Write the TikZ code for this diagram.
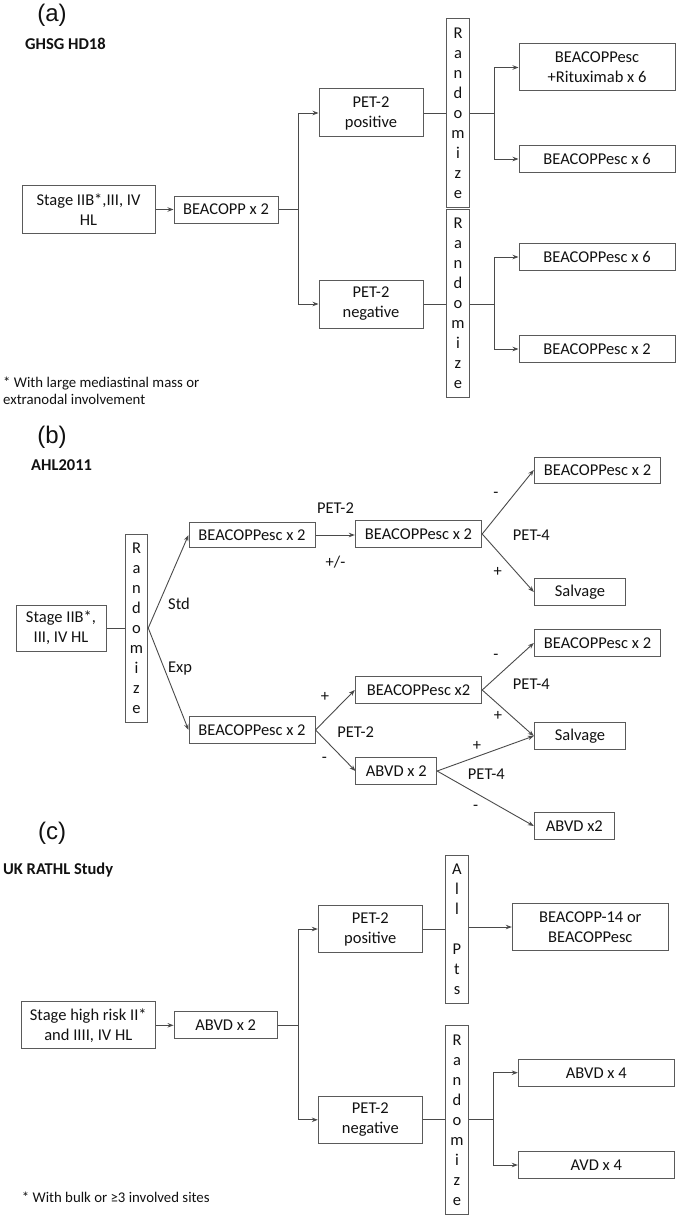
\documentclass[tikz,border=0pt]{standalone}
\usepackage{fontspec}
\setmainfont{Carlito}
\newfontfamily\labfont{Liberation Sans}
\usetikzlibrary{arrows.meta}
\definecolor{lnc}{HTML}{4A4A4A}
\definecolor{bxc}{HTML}{5A5A5A}
\definecolor{tx}{HTML}{111111}
\begin{document}
\begin{tikzpicture}[x=1pt,y=-1pt,
 bx/.style={draw=bxc, line width=1pt, inner sep=0pt, align=center, text=tx, font=\fontsize{16.5}{20}\selectfont},
 vbox/.style={bx, text width=20pt, minimum width=22.5pt},
 lab/.style={text=tx, inner sep=0pt, font=\labfont\fontsize{24}{28}\selectfont},
 ttl/.style={text=tx, inner sep=0pt, anchor=west, font=\bfseries\fontsize{16.5}{20}\selectfont},
 lbl/.style={text=tx, inner sep=0pt, font=\fontsize{16.5}{20}\selectfont},
 note/.style={text=tx, inner sep=0pt, anchor=west, align=left, font=\fontsize{14.8}{17.5}\selectfont},
 conn/.style={draw=lnc, line width=0.9pt},
 arr/.style={conn, -{Stealth[length=6pt,width=4.5pt]}}
]
\useasboundingbox (0,0) rectangle (678,1217);

% ---------------- (a)
\node[lab] (la) at (52,15) {(a)};
\node[ttl] (ta) at (25,44) {GHSG HD18};
\node[bx, minimum width=133pt, minimum height=47pt] (s1) at (88.5,209.5) {Stage IIB*,III, IV\\HL};
\node[bx, minimum width=104pt, minimum height=27pt] (b1) at (226,209.5) {BEACOPP x 2};
\node[bx, minimum width=104pt, minimum height=48pt] (p1) at (371,113) {PET-2\\positive};
\node[bx, minimum width=104pt, minimum height=48pt] (n1) at (371,304) {PET-2\\negative};
\node[vbox, minimum height=188pt] (r1) at (458,113) {R\\a\\n\\d\\o\\m\\i\\z\\e};
\node[vbox, minimum height=188pt] (r2) at (458,303.5) {R\\a\\n\\d\\o\\m\\i\\z\\e};
\node[bx, minimum width=156pt, minimum height=47pt] (e1) at (597,67.5) {BEACOPPesc\\+Rituximab x 6};
\node[bx, minimum width=156pt, minimum height=27pt] (e2) at (597,159) {BEACOPPesc x 6};
\node[bx, minimum width=156pt, minimum height=27pt] (e3) at (597,257) {BEACOPPesc x 6};
\node[bx, minimum width=156pt, minimum height=27pt] (e4) at (597,349) {BEACOPPesc x 2};
\node[note] (fa) at (3,391) {* With large mediastinal mass or\\extranodal involvement};

\coordinate (ja) at (298,209.5);
\coordinate (jb) at (494.3,113);
\coordinate (jc) at (494.3,304);
\draw[arr] (s1) -- (b1);
\draw[conn] (b1) -- (ja);
\draw[arr] (ja) |- (p1.west);
\draw[arr] (ja) |- (n1.west);
\draw[conn] (p1) -- (r1);
\draw[conn] (n1) -- (n1 -| r2.west);
\draw[conn] (r1.east) -- (jb);
\draw[conn] (r2.east |- jc) -- (jc);
\draw[arr] (jb) |- (e1.west);
\draw[arr] (jb) |- (e2.west);
\draw[arr] (jc) |- (e3.west);
\draw[arr] (jc) |- (e4.west);

% ---------------- (b)
\node[lab] (lb) at (52,437) {(b)};
\node[ttl] (tb) at (31,465) {AHL2011};
\node[bx, minimum width=90pt, minimum height=46pt] (s2) at (61,628) {Stage IIB*,\\III, IV HL};
\node[vbox, minimum height=188pt] (r3) at (136.5,628) {R\\a\\n\\d\\o\\m\\i\\z\\e};
\node[bx, minimum width=126pt, minimum height=25pt] (c1) at (252,535) {BEACOPPesc x 2};
\node[bx, minimum width=126pt, minimum height=27pt] (c2) at (252,730) {BEACOPPesc x 2};
\node[bx, minimum width=126.4pt, minimum height=26.7pt] (d1) at (418.5,534) {BEACOPPesc x 2};
\node[bx, minimum width=126.4pt, minimum height=26pt] (f1) at (597.5,470) {BEACOPPesc x 2};
\node[bx, minimum width=91.4pt, minimum height=27pt] (f2) at (580,592) {Salvage};
\node[bx, minimum width=126.4pt, minimum height=26.7pt] (d2) at (418.5,690) {BEACOPPesc x2};
\node[bx, minimum width=80.7pt, minimum height=26.7pt] (d3) at (396.3,771) {ABVD x 2};
\node[bx, minimum width=126.4pt, minimum height=27pt] (f3) at (597.5,643) {BEACOPPesc x 2};
\node[bx, minimum width=91.4pt, minimum height=27pt] (f4) at (580,736) {Salvage};
\node[bx, minimum width=80pt, minimum height=26.7pt] (f5) at (574.3,826) {ABVD x2};

\node[lbl] (l1) at (179,604) {Std};
\node[lbl] (l2) at (180,669) {Exp};
\node[lbl] (l3) at (335.5,507.7) {PET-2};
\node[lbl] (l4) at (335.5,562) {+/-};
\node[lbl] (l5) at (496,495) {-};
\node[lbl] (l6) at (531.3,535) {PET-4};
\node[lbl] (l7) at (497.7,571.7) {+};
\node[lbl] (l8) at (325,697.3) {+};
\node[lbl] (l9) at (355.7,731.7) {PET-2};
\node[lbl] (l10) at (324.3,760) {-};
\node[lbl] (l11) at (496,657.3) {-};
\node[lbl] (l12) at (531.3,684) {PET-4};
\node[lbl] (l13) at (498,716) {+};
\node[lbl] (l14) at (477,746) {+};
\node[lbl] (l15) at (486.3,774) {PET-4};
\node[lbl] (l16) at (475.7,808.3) {-};

\draw[conn] (s2) -- (r3);
\draw[arr] (r3.east) -- (c1.west);
\draw[arr] (r3.east) -- (c2.west);
\draw[arr] (c1.east) -- (c1.east -| d1.west);
\draw[arr] (d1.east) -- (f1.west);
\draw[arr] (d1.east) -- (f2.west);
\draw[arr] (c2.east) -- (d2.west);
\draw[arr] (c2.east) -- (d3.west);
\draw[arr] (d2.east) -- (f3.west);
\draw[arr] (d2.east) -- (f4.west);
\draw[arr] (d3.east) -- (f4.west);
\draw[arr] (d3.east) -- (f5.west);

% ---------------- (c)
\node[lab] (lc) at (52,833) {(c)};
\node[ttl] (tc) at (3,870) {UK RATHL Study};
\node[bx, minimum width=134pt, minimum height=47.3pt] (s3) at (88.3,1025.3) {Stage high risk II*\\and IIII, IV HL};
\node[bx, minimum width=103.3pt, minimum height=27pt] (g1) at (225.7,1025.3) {ABVD x 2};
\node[bx, minimum width=104pt, minimum height=46.7pt] (h1) at (370.3,929) {PET-2\\positive};
\node[bx, minimum width=104pt, minimum height=47pt] (h2) at (370.3,1119.8) {PET-2\\negative};
\node[vbox, minimum height=147.7pt] (a1) at (457,929.2) {A\\l\\l\\[20pt]P\\t\\s};
\node[bx, minimum width=156pt, minimum height=47.3pt] (k1) at (590.3,927) {BEACOPP-14 or\\BEACOPPesc};
\node[vbox, minimum height=189pt] (r4) at (457,1119.8) {R\\a\\n\\d\\o\\m\\i\\z\\e};
\node[bx, minimum width=156pt, minimum height=26.7pt] (k2) at (596.3,1072.7) {ABVD x 4};
\node[bx, minimum width=156pt, minimum height=26.7pt] (k3) at (596.3,1165) {AVD x 4};
\node[note] (fc) at (21.7,1197.7) {* With bulk or ≥3 involved sites};

\coordinate (jd) at (298.3,1025.3);
\coordinate (je) at (493.3,1119.8);
\draw[arr] (s3) -- (g1);
\draw[conn] (g1) -- (jd);
\draw[arr] (jd) |- (h1.west);
\draw[arr] (jd) |- (h2.west);
\draw[conn] (h1.east) -- (h1.east -| a1.west);
\draw[arr] (a1.east |- k1.west) -- (k1.west);
\draw[conn] (h2) -- (r4);
\draw[conn] (r4.east) -- (je);
\draw[arr] (je) |- (k2.west);
\draw[arr] (je) |- (k3.west);
\end{tikzpicture}
\end{document}
